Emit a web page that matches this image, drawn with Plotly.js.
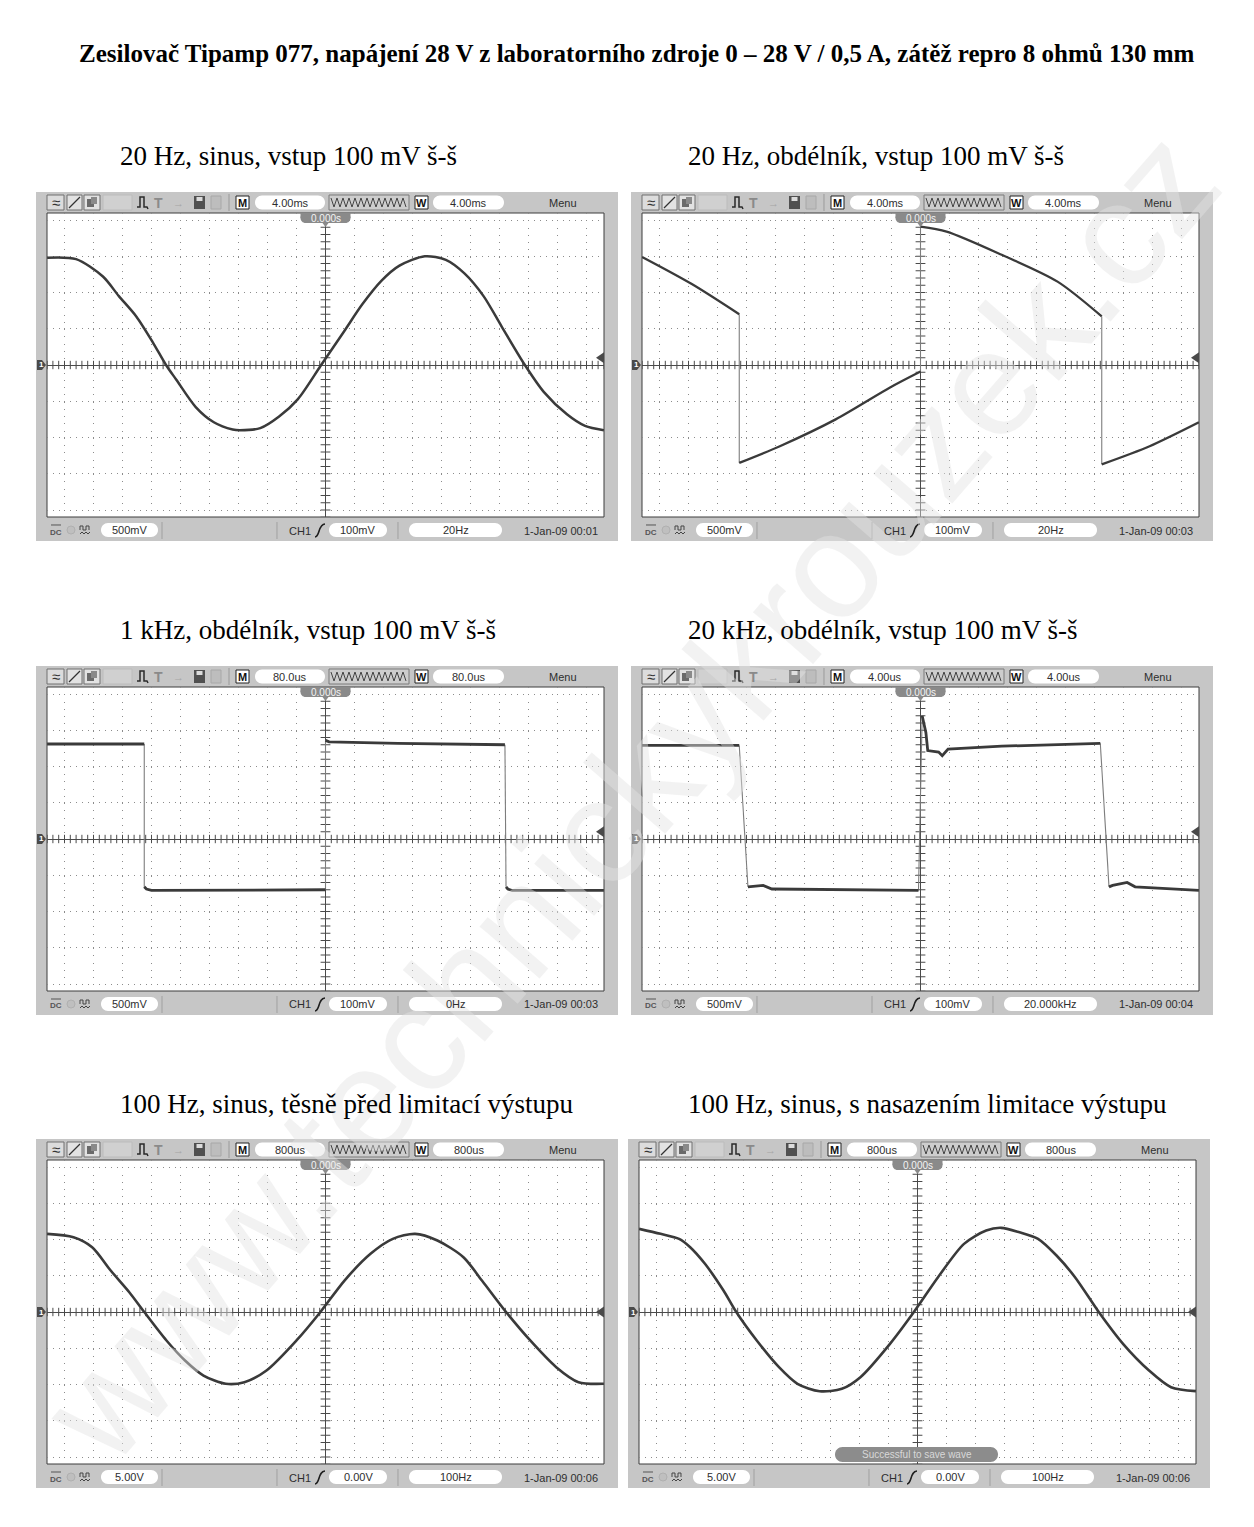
<!DOCTYPE html>
<html><head><meta charset="utf-8">
<script src="https://cdn.plot.ly/plotly-3.0.1.min.js"></script>
<style>html,body{margin:0;padding:0;background:#fff}</style>
</head><body><div id="chart" style="width:1254px;height:1527px"></div>
<script>
// ---------------- DATA ----------------
const mainTitle = "Zesilovač Tipamp 077, napájení 28 V z laboratorního zdroje 0 – 28 V / 0,5 A, zátěž repro 8 ohmů 130 mm";
const panelTitles = ["20 Hz, sinus, vstup 100 mV š-š", "20 Hz, obdélník, vstup 100 mV š-š",
  "1 kHz, obdélník, vstup 100 mV š-š", "20 kHz, obdélník, vstup 100 mV š-š",
  "100 Hz, sinus, těsně před limitací výstupu", "100 Hz, sinus, s nasazením limitace výstupu"];
const timebaseLabel = ["4.00ms","4.00ms","80.0us","4.00us","800us","800us"];
const timePerDiv = [4,4,80,4,800,800];            // ms, ms, us, us, us, us
const voltsLabel = ["500mV","500mV","500mV","500mV","5.00V","5.00V"];
const voltsPerDiv = [0.5,0.5,0.5,0.5,5,5];        // V
const trigLabel = ["100mV","100mV","100mV","100mV","0.00V","0.00V"];
const trigVolts = [0.1,0.1,0.1,0.1,0,0];
const freqLabel = ["20Hz","20Hz","0Hz","20.000kHz","100Hz","100Hz"];
const dateLabel = ["1-Jan-09 00:01","1-Jan-09 00:03","1-Jan-09 00:03","1-Jan-09 00:04","1-Jan-09 00:06","1-Jan-09 00:06"];
const watermark = "www.technickykrouzek.cz";

// panel 1: 20 Hz sine (t in ms, v in V)
const t1 = [-38.4,-34.4,-30.7,-28.5,-26.1,-23.8,-22.0,-20.6,-17.9,-15.4,-12.8,-11.8,-9.0,-6.4,-3.8,-0.6,2.6,5.1,7.7,10.2,13.7,16.6,19.2,21.8,24.3,27.5,30.1,33.3,35.8,38.4];
const v1 = [1.48,1.46,1.22,0.95,0.67,0.31,0,-0.20,-0.58,-0.79,-0.89,-0.90,-0.87,-0.71,-0.47,0,0.47,0.84,1.16,1.37,1.50,1.45,1.26,0.95,0.53,0,-0.37,-0.68,-0.84,-0.90];
// panel 2: 20 Hz square (ms, V)
const t2 = [-38.4,-31.6,-25.0,-25.0,-19.4,-11.7,-4.2,0,0,3.6,11.2,18.9,25.0,25.0,31.6,38.4];
const v2 = [1.49,1.12,0.70,-1.35,-1.12,-0.75,-0.31,-0.09,1.91,1.84,1.52,1.15,0.67,-1.37,-1.12,-0.79];
// panel 3: 1 kHz square (us, V)
const t3 = [-768,-650,-500,-500,-494,-480,-250,0,0,10,200,495,498,503,515,768];
const v3 = [1.31,1.31,1.31,-0.66,-0.69,-0.71,-0.71,-0.70,1.36,1.34,1.32,1.30,-0.66,-0.69,-0.71,-0.71];
// panel 4: 20 kHz square (us, V)
const t4 = [-38.4,-25.0,-23.8,-21.7,-20.5,-0.28,0.23,0.74,1.0,2.5,3.0,3.8,11.2,24.8,26.0,26.5,28.5,29.6,38.4];
const v4 = [1.29,1.29,-0.66,-0.64,-0.69,-0.71,1.70,1.47,1.22,1.20,1.15,1.24,1.28,1.32,-0.66,-0.64,-0.60,-0.66,-0.71];
// panel 5: 100 Hz sine before clipping (us, V)
const t5 = [-7680,-6952,-6437,-5926,-5413,-5000,-4387,-3876,-3366,-2751,-2238,-1628,-800,-140,524,1242,1857,2472,3087,3805,4315,4980,5648,6365,6980,7680];
const v5 = [10.78,10.32,8.94,5.72,2.73,0,-3.93,-6.69,-8.76,-9.90,-9.68,-8.07,-3.93,0,4.34,8.03,10.09,10.78,9.86,7.56,4.34,0,-3.93,-7.61,-9.68,-9.90];
// panel 6: 100 Hz sine with clipping onset (us, V)
const t6 = [-7680,-7088,-6577,-6271,-5863,-5352,-5000,-4434,-3821,-3311,-2698,-2086,-1575,-759,-100,566,1283,1895,2304,2811,3325,3835,4345,5000,5670,6387,6994,7680];
const v6 = [11.47,10.78,10.09,8.94,6.65,2.96,0,-3.93,-7.61,-9.90,-10.92,-10.59,-8.99,-4.39,0,4.80,9.40,11.24,11.61,11.00,10.09,7.79,4.80,0,-4.39,-8.07,-10.37,-10.92];

const seriesT = [t1,t2,t3,t4,t5,t6];
const seriesV = [v1,v2,v3,v4,v5,v6];

// ---------------- LAYOUT / STYLE ----------------
const W=1254, H=1527;
const frameX=[36,631,36,631,36,628];
const frameY=[192,192,666,666,1139,1139];
const titleX=[118,686,118,686,118,686];
const titleY=[156,156,630,630,1104,1104];
const lineShape=['spline','spline','linear','linear','spline','spline'];
const lineW=[2.5,2.3,2.8,2.8,2.6,2.6];
const HPD=29, VPD=36.25; // screen pixels per division

const shapes=[], annotations=[], traces=[];
const layout={width:W,height:H,margin:{l:0,r:0,t:0,b:0},paper_bgcolor:'#ffffff',
  plot_bgcolor:'rgba(0,0,0,0)',showlegend:false,shapes:shapes,annotations:annotations,hovermode:false};
const X=p=>p/W, Y=p=>1-p/H;
const P=(x,y)=>X(x).toFixed(6)+','+Y(y).toFixed(6);
function rect(x0,y0,x1,y1,fill,lc,lw,layer){
  shapes.push({type:'rect',xref:'paper',yref:'paper',x0:X(x0),x1:X(x1),y0:Y(y1),y1:Y(y0),
    fillcolor:fill,line:{color:lc||'rgba(0,0,0,0)',width:lw||0},layer:layer||'below'});
}
function path(pts,closed,fill,lc,lw,layer){
  let d='M'+pts.map(p=>P(p[0],p[1])).join(' L')+(closed?' Z':'');
  shapes.push({type:'path',xref:'paper',yref:'paper',path:d,fillcolor:fill||'rgba(0,0,0,0)',
    line:{color:lc||'rgba(0,0,0,0)',width:lw||0},layer:layer||'below'});
}
function pill(x0,y0,x1,y1,fill,layer){
  const r=(y1-y0)/2, k=0.5523*r, ym=(y0+y1)/2;
  const d='M'+P(x0+r,y0)+' L'+P(x1-r,y0)+
    ' C'+P(x1-r+k,y0)+' '+P(x1,ym-k)+' '+P(x1,ym)+
    ' C'+P(x1,ym+k)+' '+P(x1-r+k,y1)+' '+P(x1-r,y1)+
    ' L'+P(x0+r,y1)+
    ' C'+P(x0+r-k,y1)+' '+P(x0,ym+k)+' '+P(x0,ym)+
    ' C'+P(x0,ym-k)+' '+P(x0+r-k,y0)+' '+P(x0+r,y0)+' Z';
  shapes.push({type:'path',xref:'paper',yref:'paper',path:d,fillcolor:fill,line:{width:0},layer:layer||'below'});
}
function txt(x,y,s,size,color,opt){
  opt=opt||{};
  annotations.push({xref:'paper',yref:'paper',x:X(x),y:Y(y),text:s,showarrow:false,
    xanchor:opt.xa||'center',yanchor:'middle',textangle:opt.angle||0,
    font:{family:opt.family||'Liberation Sans, Arial, sans-serif',size:size,color:color}});
}

// watermark first (annotations drawn in order)
txt(630,795,watermark,150,'rgba(226,226,226,0.45)',{angle:-49});

txt(636,53,'<b>'+mainTitle+'</b>',25,'#000',{family:'Liberation Serif, Times New Roman, serif'});

const UI='#2e2e2e';
for(let i=0;i<6;i++){
  const ox=frameX[i], oy=frameY[i];
  const R=(x)=>ox+x, T=(y)=>oy+y;
  const sx0=ox+11, sx1=ox+568, sy0=oy+21, sy1=oy+325;
  const cx=(sx0+sx1)/2, cy=(sy0+sy1)/2;
  const hx=(sx1-sx0)/2/HPD, hy=(sy1-sy0)/2/VPD;
  const tdiv=timePerDiv[i], vdiv=voltsPerDiv[i];
  const n=i+1, xs=n===1?'x':'x'+n, ys=n===1?'y':'y'+n;
  const xk=n===1?'xaxis':'xaxis'+n, yk=n===1?'yaxis':'yaxis'+n;

  txt(titleX[i],titleY[i],panelTitles[i],27,'#000',{xa:'left',family:'Liberation Serif, Times New Roman, serif'});

  // frame + screen
  rect(ox,oy,ox+582,oy+349,'#c6c6c6');
  rect(sx0,sy0,sx1,sy1,'#ffffff','#3c3c3c',1);

  // ---- top bar ----
  rect(R(11),T(3),R(28),T(18),'#dcdcdc','#707070',1);
  txt(R(19.5),T(10.5),'≈',15,'#333');
  rect(R(31),T(3),R(46),T(18),'#e2e2e2','#707070',1);
  path([[R(33),T(16)],[R(44),T(5)]],false,null,'#333',1.2);
  rect(R(48),T(3),R(64),T(18),'#e2e2e2','#707070',1);
  rect(R(51),T(7),R(58),T(15),'#6a6a6a');
  rect(R(55),T(5),R(61),T(12),'#8a8a8a');
  rect(R(67),T(3),R(96),T(18),'#d0d0d0','#bcbcbc',1);
  path([[R(101),T(15)],[R(104),T(15)],[R(104),T(5)],[R(108),T(5)],[R(108),T(15)],[R(111),T(15)],[R(112),T(17)]],false,null,'#2a2a2a',1.5);
  txt(R(122),T(10.5),'<b>T</b>',14,'#8a8a8a');
  txt(R(142),T(10.5),'→',11,'#a5a5a5');
  rect(R(158),T(4),R(169),T(17),'#505050');
  rect(R(160.5),T(5),R(166.5),T(9),'#dcdcdc');
  rect(R(175),T(4),R(185),T(17),'#bdbdbd','#a8a8a8',1);
  path([[R(193),T(2)],[R(193),T(19)]],false,null,'#9a9a9a',1);
  rect(R(200),T(4),R(213),T(17),'#ffffff','#222',1);
  txt(R(206.5),T(10.5),'<b>M</b>',11,'#111');
  pill(R(219),T(3.5),R(289),T(17.5),'#ffffff');
  txt(R(254),T(10.5),timebaseLabel[i],11,UI);
  rect(R(293),T(3),R(373),T(18),'#cdcdcd','#7a7a7a',1);
  {
    const zz=[]; let up=true;
    for(let x=295;x<=371;x+=3){ zz.push([R(x),T(up?6:15)]); up=!up; }
    path(zz,false,null,'#444',1);
  }
  rect(R(379),T(4),R(392),T(17),'#ffffff','#222',1);
  txt(R(385.5),T(10.5),'<b>W</b>',11,'#111');
  pill(R(397),T(3.5),R(468),T(17.5),'#ffffff');
  txt(R(432.5),T(10.5),timebaseLabel[i],11,UI);
  txt(R(527),T(11),'Menu',11,UI);

  // ---- bottom bar ----
  path([[R(15),T(333)],[R(25),T(333)]],false,null,'#555',1);
  txt(R(20),T(340),'<b>DC</b>',8,'#555');
  shapes.push({type:'circle',xref:'paper',yref:'paper',x0:X(R(31)),x1:X(R(39)),y0:Y(T(342)),y1:Y(T(334)),fillcolor:'#bfbfbf',line:{color:'#b0b0b0',width:1},layer:'below'});
  path([[R(44),T(338)],[R(44),T(334)],[R(47),T(334)],[R(47),T(338)],[R(50),T(338)],[R(50),T(334)],[R(53),T(334)],[R(53),T(338)]],false,null,'#444',1);
  path([[R(44),T(342)],[R(46),T(340)],[R(48),T(342)],[R(50),T(340)],[R(52),T(342)],[R(54),T(340)]],false,null,'#444',1);
  pill(R(65),T(331),R(122),T(345),'#ffffff');
  txt(R(93.5),T(338),voltsLabel[i],11,UI);
  [126,241,362].forEach(s=>path([[R(s),T(330)],[R(s),T(347)]],false,null,'#a0a0a0',1));
  txt(R(264),T(338.5),'CH1',11,UI);
  shapes.push({type:'path',xref:'paper',yref:'paper',layer:'below',line:{color:'#1e1e1e',width:1.6},
    path:'M'+P(R(279),T(345))+' C'+P(R(284),T(345))+' '+P(R(282),T(332))+' '+P(R(289),T(332))});
  pill(R(293),T(331),R(351),T(345),'#ffffff');
  txt(R(322),T(338),trigLabel[i],11,UI);
  pill(R(373),T(331),R(466),T(345),'#ffffff');
  txt(R(419.5),T(338),freqLabel[i],11,UI);
  txt(R(525),T(338.5),dateLabel[i],11,UI);

  // ---- on-screen markers (above) ----
  pill(cx-25,sy0,cx+25,sy0+10,'#8a8a8a','above');
  rect(cx-25,sy0,cx+25,sy0+5,'#8a8a8a',null,0,'above');
  path([[cx-3,sy0+10],[cx+3,sy0+10],[cx,sy0+14]],true,'#8a8a8a',null,0,'above');
  txt(cx,sy0+5.5,'0.000s',10,'#f4f4f4');
  path([[ox+1,cy-5],[ox+6,cy-5],[ox+10,cy],[ox+6,cy+5],[ox+1,cy+5]],true,'#4a4a4a',null,0,'above');
  txt(ox+5,cy,'<b>1</b>',8,'#ffffff');
  const ty=cy-trigVolts[i]/vdiv*VPD;
  path([[sx1,ty-5.5],[sx1-8,ty],[sx1,ty+5.5]],true,'#4a4a4a',null,0,'above');

  // ---- axes (graticule) ----
  layout[xk]={domain:[X(sx0),X(sx1)],range:[-hx*tdiv,hx*tdiv],anchor:ys,dtick:tdiv,tick0:0,
    showgrid:true,gridcolor:'#8c8c8c',griddash:'1px,6.25px',gridwidth:1,
    zeroline:true,zerolinecolor:'#4a4a4a',zerolinewidth:1,showticklabels:false,ticks:'',showline:false,fixedrange:true};
  layout[yk]={domain:[Y(sy1),Y(sy0)],range:[-hy*vdiv,hy*vdiv],anchor:xs,dtick:vdiv,tick0:0,
    showgrid:true,gridcolor:'#8c8c8c',griddash:'1px,4.8px',gridwidth:1,
    zeroline:true,zerolinecolor:'#4a4a4a',zerolinewidth:1,showticklabels:false,ticks:'',showline:false,fixedrange:true};

  // centre-line minor ticks (1/5 division)
  const tx=[],tyv=[];
  for(let k=-48;k<=48;k++){ if(k!==0){tx.push(k*tdiv/5);tyv.push(0);} }
  traces.push({x:tx,y:tyv,xaxis:xs,yaxis:ys,mode:'markers',hoverinfo:'skip',
    marker:{symbol:'line-ns',size:6,line:{color:'#4a4a4a',width:1}}});
  const vx=[],vy=[];
  for(let k=-21;k<=21;k++){ if(k!==0){vx.push(0);vy.push(k*vdiv/5);} }
  traces.push({x:vx,y:vy,xaxis:xs,yaxis:ys,mode:'markers',hoverinfo:'skip',
    marker:{symbol:'line-ew',size:7,line:{color:'#4a4a4a',width:1}}});

  // ---- waveform: split fast edges into a thin trace ----
  const t=seriesT[i], v=seriesV[i];
  const mx=[t[0]], my=[v[0]], ex=[], ey=[];
  for(let j=1;j<t.length;j++){
    const dxd=Math.abs(t[j]-t[j-1])/tdiv, dyd=Math.abs(v[j]-v[j-1])/vdiv;
    if(dyd>1.5 && dyd>5*dxd){
      mx.push(null,t[j]); my.push(null,v[j]);
      ex.push(t[j-1],t[j],null); ey.push(v[j-1],v[j],null);
    } else { mx.push(t[j]); my.push(v[j]); }
  }
  if(ex.length) traces.push({x:ex,y:ey,xaxis:xs,yaxis:ys,mode:'lines',hoverinfo:'skip',
    line:{color:'#7d7d7d',width:1.1}});
  traces.push({x:mx,y:my,xaxis:xs,yaxis:ys,mode:'lines',connectgaps:false,hoverinfo:'skip',
    line:{color:'#3a3a3a',width:lineW[i],shape:lineShape[i],smoothing:0.8}});

  if(i===5){
    pill(R(207),T(308),R(370),T(323),'#8c8c8c','above');
    txt(R(288.5),T(315.5),'Successful to save wave',10,'#d8d8d8');
  }
}

Plotly.newPlot('chart',traces,layout,{staticPlot:true,displayModeBar:false});
</script>
</body></html>
